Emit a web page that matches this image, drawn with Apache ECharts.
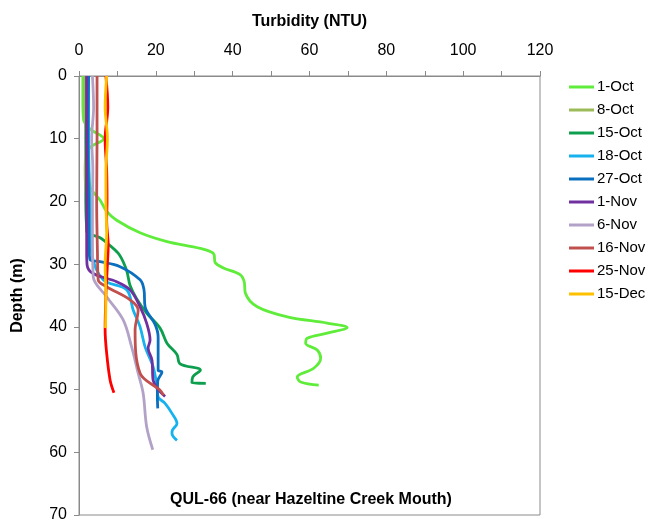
<!DOCTYPE html>
<html>
<head>
<meta charset="utf-8">
<title>QUL-66 turbidity profiles</title>
<script src="https://cdn.jsdelivr.net/npm/echarts@6/dist/echarts.min.js"></script>
<style>
  html, body { margin: 0; padding: 0; background: #fff; }
  #chart { width: 650px; height: 523px; }
</style>
</head>
<body>
<div id="chart"></div>
<script>
// survey dates (legend order)
const dates = ['1-Oct', '8-Oct', '15-Oct', '18-Oct', '27-Oct', '1-Nov', '6-Nov', '16-Nov', '25-Nov', '15-Dec'];

// each profile: [turbidity NTU, depth m]
const oct1 = [[1, 0], [1, 4], [1.2, 7], [3, 8.5], [6.4, 10], [3, 11.3], [2.2, 12.3], [2.5, 15], [2.9, 17.7], [5.5, 19.8], [7.2, 21.6], [9.8, 23], [15.9, 25], [22.9, 26.4], [31.6, 27.5], [35, 28.3], [35.5, 29.8], [37.6, 30.6], [42, 31.7], [43, 32.8], [43.3, 34.6], [46.4, 36.8], [54.2, 38.4], [64.6, 39.4], [69.8, 40.1], [64.6, 41], [59.4, 41.8], [59, 42.6], [62, 43.7], [62.9, 45], [61.1, 46.6], [56.8, 48], [57.7, 48.8], [62.4, 49.3]];
const oct8 = [[1.5, 0], [1.5, 5], [1.8, 10], [1.6, 15], [1.8, 20], [2, 25]];
const oct15 = [[2, 0], [2, 5], [1.8, 10], [2, 15], [1.8, 20], [2.1, 24.8], [5.5, 25.8], [8, 27], [10.5, 28.5], [12.4, 31], [13.3, 33.4], [15, 35.5], [17.6, 37.8], [21.1, 40.2], [22.9, 42.6], [25.5, 44.4], [26.3, 45.9], [31.6, 46.9], [29.6, 48], [29.4, 48.9], [33, 49]];
const oct18 = [[2.5, 0], [2.5, 10], [2.8, 20], [3, 25], [3.3, 28.3], [6.3, 32.5], [12.4, 34.1], [14.1, 37.3], [15.9, 40], [17.2, 43.2], [19.3, 46.4], [20.3, 49.5], [20.6, 51.2], [22.4, 52.2], [24.2, 53.8], [25.5, 55.4], [24.3, 56.5], [24.2, 57], [25.5, 58.1]];
const oct27 = [[2.5, 0], [2.3, 10], [2.5, 20], [2.6, 27], [2.9, 29.3], [5.5, 29.6], [10.7, 30.4], [15.9, 32.5], [16.9, 34], [17.2, 36.8], [19.8, 39.6], [20.6, 41.6], [20.6, 46.9], [21.6, 47.2], [20.5, 48.6], [20.4, 51], [20.5, 53]];
const nov1 = [[2, 0], [2, 10], [2, 20], [2, 28], [2.1, 30.1], [3.7, 31.5], [9.8, 32.8], [13.3, 34.1], [15.9, 36.8], [17.6, 39.4], [18.5, 42.1], [18, 43.4], [19, 45.3], [19.3, 48.5], [22.4, 51.1]];
const nov6 = [[3.5, 0], [3.8, 5], [3.3, 10], [3.6, 15], [3.5, 20], [3.5, 25], [3.7, 32], [7.2, 35.2], [11.5, 38.9], [13.7, 43.2], [15.4, 47.4], [16.7, 50.6], [17.6, 55.9], [19.2, 59.6]];
const nov16 = [[4.7, 0], [4.7, 10], [4.6, 20], [4.8, 28], [5, 32.5], [7.2, 33.6], [13.3, 35.7], [15.4, 37.3], [14.6, 40.5], [15.9, 47.4], [21.1, 50.1], [22, 50.9]];
const nov25 = [[7, 0], [7.5, 5], [6.8, 10], [7.2, 15], [7.3, 20], [7.2, 23], [7.6, 27], [7.4, 30], [7, 35], [6.8, 40.5], [7.2, 44.2], [8.1, 48.5], [9.1, 50.5]];
const dec15 = [[7.2, 0], [6.8, 5], [7.4, 10], [7, 15], [7, 20], [7.2, 25], [6.8, 30], [7, 35], [6.9, 40.2]];

const profiles = [oct1, oct8, oct15, oct18, oct27, nov1, nov6, nov16, nov25, dec15];
const colors = ['#5FEC3A', '#9BBB59', '#0E9F4E', '#16B2EE', '#0A6FBF', '#7030A0', '#B3A2C7', '#C0504D', '#FF0000', '#FFC000'];

const chart = echarts.init(document.getElementById('chart'), null, { renderer: 'canvas' });

const font = '"Liberation Sans", Arial, sans-serif';

const option = {
    animation: false,
    textStyle: { fontFamily: font },
    grid: {
        left: 79,
        right: 110,
        top: 76,
        bottom: 8,
        show: true,
        borderColor: '#8a8a8a',
        borderWidth: 1
    },
    legend: {
        data: dates,
        orient: 'vertical',
        left: 564,
        top: 74,
        icon: 'rect',
        itemWidth: 25,
        itemHeight: 3,
        itemGap: 7,
        textStyle: { fontSize: 15, color: '#000', fontFamily: font, lineHeight: 16, padding: [0, 0, 0, -2] }
    },
    xAxis: {
        type: 'value',
        position: 'top',
        min: 0,
        max: 120,
        interval: 20,
        name: 'Turbidity (NTU)',
        nameLocation: 'middle',
        nameGap: 46,
        nameTextStyle: { fontSize: 16, fontWeight: 'bold', color: '#000', fontFamily: font },
        axisLine: { show: true, lineStyle: { color: '#8a8a8a' } },
        axisTick: { show: true, inside: false, length: 5, lineStyle: { color: '#8a8a8a' } },
        minorTick: { show: true, splitNumber: 2, length: 5, lineStyle: { color: '#8a8a8a' } },
        splitLine: { show: false },
        axisLabel: { fontSize: 16, color: '#000', margin: 17, fontFamily: font }
    },
    yAxis: {
        type: 'value',
        inverse: true,
        min: 0,
        max: 70,
        interval: 10,
        name: 'Depth (m)',
        nameLocation: 'middle',
        nameGap: 53,
        nameRotate: 90,
        nameTextStyle: { fontSize: 16, fontWeight: 'bold', color: '#000', fontFamily: font },
        axisLine: { show: true, lineStyle: { color: '#8a8a8a' } },
        axisTick: { show: true, inside: false, length: 5, lineStyle: { color: '#8a8a8a' } },
        splitLine: { show: false },
        axisLabel: { fontSize: 16, color: '#000', margin: 12, fontFamily: font }
    },
    graphic: [
        {
            type: 'text',
            x: 311,
            y: 500,
            style: {
                text: 'QUL-66 (near Hazeltine Creek Mouth)',
                align: 'center',
                verticalAlign: 'middle',
                fontSize: 16,
                fontWeight: 'bold',
                fontFamily: font,
                fill: '#000'
            }
        }
    ],
    series: profiles.map((d, i) => ({
        name: dates[i],
        type: 'line',
        data: d,
        smooth: 0.35,
        showSymbol: false,
        symbol: 'none',
        lineStyle: { width: 2.8, color: colors[i] },
        itemStyle: { color: colors[i] }
    }))
};

chart.setOption(option);
window.addEventListener('resize', chart.resize);
</script>
</body>
</html>
